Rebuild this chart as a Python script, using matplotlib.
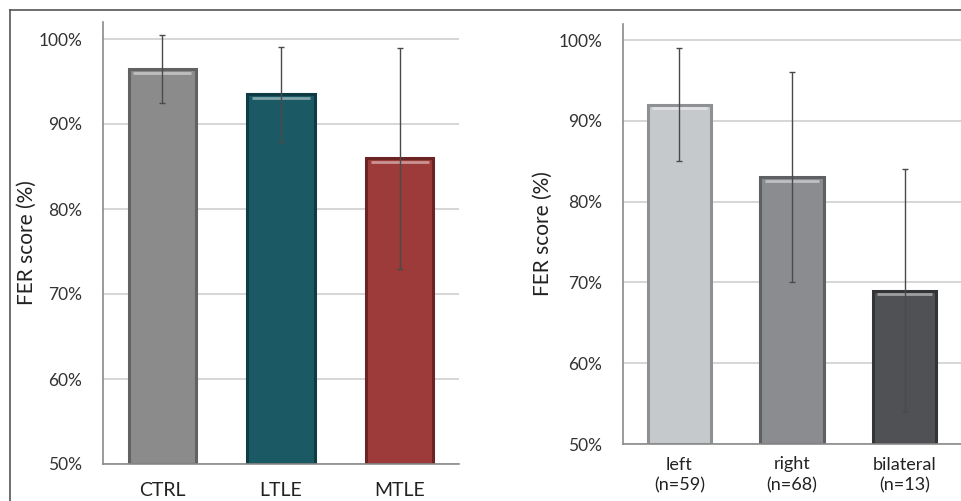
import numpy as np
import matplotlib.pyplot as plt
from matplotlib.lines import Line2D

# left panel: groups
groups = ['CTRL', 'LTLE', 'MTLE']
group_mean = [96.5, 93.5, 86.0]
group_sd = [4.0, 5.6, 13.0]
group_colors = ['#8b8b8b', '#1b5a64', '#9c3b3a']
group_edges = ['#626262', '#0f3c44', '#6a2423']

# right panel: lateralization
sides = ['left\n(n=59)', 'right\n(n=68)', 'bilateral\n(n=13)']
side_mean = [92.0, 83.0, 69.0]
side_sd = [7.0, 13.0, 15.0]
side_colors = ['#c6c9cc', '#8a8c8f', '#505154']
side_edges = ['#8e9093', '#5e6063', '#333436']

yticks = [50, 60, 70, 80, 90, 100]

plt.rcParams['font.family'] = ['Lato', 'DejaVu Sans']

W, H = 961, 501
fig = plt.figure(figsize=(W / 100, H / 100), dpi=100)


def fr(x0, x1, ytop, ybot):
    return [x0 / W, 1 - ybot / H, (x1 - x0) / W, (ybot - ytop) / H]


def panel(ax, labels, mean, sd, colors, edges, width, xpad, xsize, lpad):
    x = np.arange(len(labels))
    ax.set_axisbelow(True)
    ax.yaxis.grid(True, color='#cfcfcf', linewidth=1.2)
    ax.bar(x, np.array(mean) - 50, width, bottom=50, color=colors,
           edgecolor=edges, linewidth=2.2, zorder=2)
    # soft highlight along the top of each bar
    for xi, m in zip(x, mean):
        ax.hlines(m - 0.45, xi - width / 2 + 0.04, xi + width / 2 - 0.04,
                  color='white', alpha=0.45, linewidth=2, zorder=3)
    ax.errorbar(x, mean, yerr=sd, fmt='none', ecolor='#4a4a4a',
                elinewidth=1.0, capsize=2, capthick=1.0, zorder=4)
    ax.set_xlim(-0.5, len(labels) - 0.5)
    ax.set_ylim(50, 102)
    ax.set_yticks(yticks)
    ax.set_yticklabels([f'{t}%' for t in yticks])
    ax.set_xticks(x)
    ax.set_xticklabels(labels, linespacing=1.4)
    for s in ['top', 'right']:
        ax.spines[s].set_visible(False)
    for s in ['left', 'bottom']:
        ax.spines[s].set_color('#8a8a8a')
        ax.spines[s].set_linewidth(1.2)
    ax.tick_params(axis='y', length=0, pad=15, labelsize=12.5, labelcolor='#333333')
    ax.tick_params(axis='x', length=0, pad=xpad, labelsize=xsize, labelcolor='#222222')
    ax.set_ylabel('FER score (%)', fontsize=15, color='#222222', labelpad=lpad)


ax1 = fig.add_axes(fr(103, 459, 22, 464))
panel(ax1, groups, group_mean, group_sd, group_colors, group_edges, 0.57, 13, 14, 1)

ax2 = fig.add_axes(fr(623, 961, 24, 444))
panel(ax2, sides, side_mean, side_sd, side_colors, side_edges, 0.565, 9, 13, 4)

# thin frame along the top and left of the figure
fig.add_artist(Line2D([10 / W, 1], [1 - 10 / H, 1 - 10 / H], color='#555555', linewidth=1.2))
fig.add_artist(Line2D([10 / W, 10 / W], [0, 1 - 10 / H], color='#555555', linewidth=1.2))

fig.savefig('out.png', dpi=100)
